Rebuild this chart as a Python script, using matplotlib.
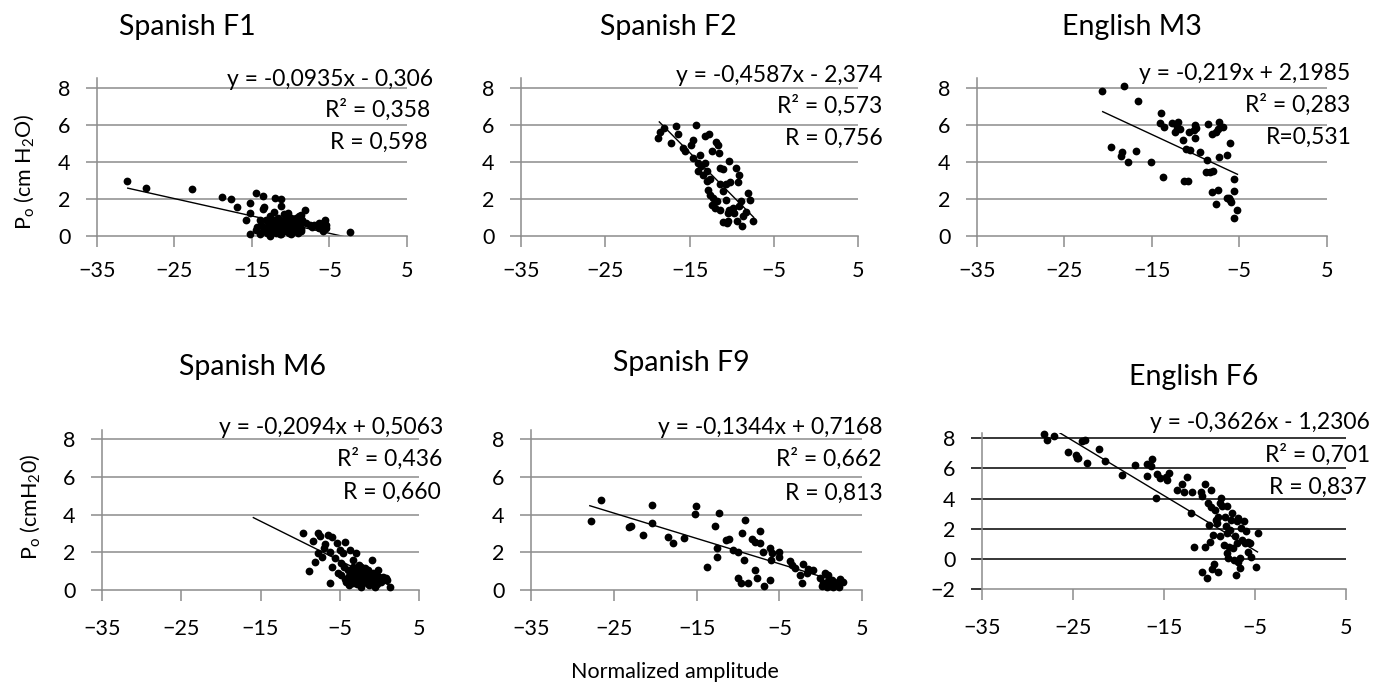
# %%
import matplotlib
matplotlib.use('Agg')
import matplotlib.pyplot as plt
import numpy as np

plt.rcParams['font.family'] = ['Lato', 'DejaVu Sans']
plt.rcParams['mathtext.fontset'] = 'custom'
plt.rcParams['mathtext.rm'] = 'Lato'
plt.rcParams['mathtext.it'] = 'Lato:italic'

# %% data

titles = ['Spanish F1', 'Spanish F2', 'English M3', 'Spanish M6', 'Spanish F9', 'English F6']

equations = ['y = -0,0935x - 0,306', 'y = -0,4587x - 2,374', 'y = -0,219x + 2,1985',
             'y = -0,2094x + 0,5063', 'y = -0,1344x + 0,7168', 'y = -0,3626x - 1,2306']
r2_labels = ['R² = 0,358', 'R² = 0,573', 'R² = 0,283', 'R² = 0,436', 'R² = 0,662', 'R² = 0,701']
r_labels = ['R = 0,598', 'R = 0,756', 'R=0,531', 'R = 0,660', 'R = 0,813', 'R = 0,837']

slopes = [-0.0935, -0.4587, -0.219, -0.2094, -0.1344, -0.3626]
intercepts = [-0.306, -2.374, 2.1985, 0.5063, 0.7168, -1.2306]
trend_x0 = [-31.0, -18.6, -20.6, -15.9, -27.9, -26.8]
trend_x1 = [-2.3, -7.4, -5.2, 1.3, 2.7, -4.7]

x_ticks = [-35, -25, -15, -5, 5]
y_ticks_top = [0, 2, 4, 6, 8]
y_ticks_f6 = [-2, 0, 2, 4, 6, 8]

ylabel_top = r'P$_{\rm o}$ (cm H$_{\rm 2}$O)'
ylabel_bottom = r'P$_{\rm o}$ (cmH$_{\rm 2}$0)'
xlabel = 'Normalized amplitude'

f1_x = [-31.05, -28.7, -22.7, -18.8, -17.7, -16.9, -15.3, -14.5, -13.5, -12.0, -11.2, -11.2, -13.4,
        -15.3, -15.8, -15.2, -14.5, -13.6, -8.1, -8.7, -8.0, -5.6, -5.5, -2.3, -6.3,
        -13.8, -13.5, -13.2, -13.0, -12.8, -12.6, -12.5, -12.3, -12.1, -12.0, -11.9, -11.8, -11.6,
        -11.5, -11.3, -11.2, -11.0, -10.9, -10.8, -10.6, -10.5, -10.4, -10.2, -10.1, -10.0, -9.8,
        -9.7, -9.5, -9.4, -9.2, -9.0, -8.9, -8.8, -8.6, -8.5, -7.5, -7.2, -6.0, -5.8, -5.7, -5.5,
        -12.7, -11.4, -13.9, -12.9, -10.3, -9.3, -7.0, -6.4, -14.3, -14.0,
        -13.3, -12.4, -11.7, -11.1, -10.7, -10.0, -9.6, -9.1, -12.2, -11.5, -10.9, -10.4, -9.9,
        -13.1, -12.6, -11.9, -11.3, -10.6, -10.2, -9.5, -8.7, -12.9, -11.6, -10.8]
f1_y = [3.0, 2.62, 2.53, 2.13, 2.0, 1.56, 1.79, 2.31, 2.19, 2.08, 1.99, 1.65, 1.6,
        1.24, 0.88, 0.1, 0.34, 1.45, 1.42, 1.15, 0.7, 0.88, 0.61, 0.25, 0.43,
        0.6, 0.3, 0.9, 0.5, 0.2, 1.1, 0.7, 0.4, 1.3, 0.9, 0.2, 0.6, 1.0,
        0.4, 0.8, 0.1, 0.5, 1.2, 0.7, 0.3, 0.9, 0.5, 0.2, 0.7, 1.0, 0.4,
        0.6, 0.3, 0.8, 0.5, 0.2, 1.1, 0.6, 0.4, 0.9, 0.6, 0.5, 0.55, 0.3, 0.75, 0.45,
        0.0, 0.15, 0.15, 0.75, 1.25, 1.0, 0.6, 0.7, 0.5, 0.9,
        0.45, 0.55, 0.35, 0.65, 0.45, 0.55, 0.7, 0.35, 0.8, 0.25, 0.35, 0.75, 0.15,
        0.2, 0.35, 0.5, 0.3, 0.55, 0.45, 0.5, 0.3, 0.45, 0.7, 0.9]

f2_x = [-18.75, -18.5, -18.0, -16.6, -14.3, -17.2, -16.4, -15.8, -14.6, -14.8, -15.6, -13.2, -12.7,
        -11.9, -11.6, -12.3, -11.5, -14.6, -13.8, -14.0, -13.6, -13.2, -14.0, -13.4, -13.0, -12.6,
        -10.3, -11.4, -11.1, -9.5, -9.1, -11.4, -10.7, -10.2, -9.3, -12.8, -12.6, -12.2, -12.4,
        -12.0, -11.8, -11.0, -10.7, -11.4, -10.3, -10.5, -9.9, -9.1, -8.9, -8.1, -7.9, -8.7,
        -10.5, -11.0, -10.6, -9.4, -8.8, -7.5, -8.3, -9.7, -13.0]
f2_y = [5.3, 5.6, 5.85, 5.94, 5.97, 5.04, 5.49, 4.77, 5.2, 4.9, 4.6, 5.4, 5.5,
        5.1, 4.9, 4.6, 4.5, 4.2, 4.4, 3.96, 3.8, 3.96, 3.5, 3.3, 3.5, 3.06,
        4.05, 3.7, 3.6, 3.7, 3.3, 2.8, 2.8, 2.9, 2.9, 2.5, 2.25, 2.07, 1.7,
        1.53, 1.89, 2.43, 1.98, 1.44, 1.44, 1.26, 1.53, 1.62, 1.89, 2.34, 1.98, 1.08,
        0.81, 0.76, 0.72, 0.81, 0.58, 0.81, 1.3, 1.26, 2.97]

m3_x = [-20.7, -18.2, -16.6, -19.6, -18.4, -18.5, -17.7, -16.8, -15.1, -13.9, -14.1, -13.6, -13.7,
        -12.7, -12.0, -12.1, -11.8, -12.3, -11.4, -11.1, -10.6, -11.3, -10.9, -10.7, -10.0, -9.9,
        -10.2, -10.1, -9.5, -8.6, -8.7, -8.8, -8.3, -8.0, -8.1, -7.6, -7.3, -6.9, -7.4, -7.3,
        -6.4, -6.0, -8.1, -7.4, -7.6, -5.6, -5.6, -6.2, -6.0, -5.9, -5.3, -5.6, -6.4]
m3_y = [7.82, 8.09, 7.3, 4.79, 4.52, 4.34, 4.01, 4.6, 4.01, 6.62, 6.11, 5.86, 3.21,
        6.11, 6.17, 5.9, 5.8, 5.63, 5.18, 4.7, 4.64, 2.97, 2.97, 5.6, 6.0, 5.85,
        5.72, 5.31, 4.52, 6.02, 4.1, 3.48, 3.44, 3.5, 5.49, 5.63, 6.17, 5.9, 5.8, 4.28,
        4.37, 5.0, 2.36, 2.48, 1.72, 3.08, 2.44, 2.04, 1.95, 1.82, 1.41, 1.0, 2.07]

m6_x = [-9.7, -8.9, -8.4, -7.8, -7.5, -8.1, -7.7, -7.3, -6.9, -6.5, -6.0, -6.3, -6.3, -6.0,
        -5.4, -5.0, -5.2, -4.9, -4.8, -4.6, -4.4, -4.4, -4.2, -4.0, -3.7, -3.3, -3.0, -3.2,
        -3.3, -2.9, -2.7, -2.5, -2.3, -2.1, -1.9, -1.6, -1.4, -1.2, -1.0, -0.9, -0.8, -0.6,
        -0.4, -0.2, 0.0, 0.4, 0.9, 0.8, 1.3, -1.6, -2.1, -2.7, -3.1, -3.5, -3.9, -2.3, -1.3,
        -2.8, -2.4, -2.0, -1.7, -1.1, -0.7, -0.3, 0.2, -2.6, -1.8, -1.5, -0.5, -3.4, -2.2,
        -1.0, -0.1, -7.0, -5.6, -4.5, -3.8]
m6_y = [3.0, 1.0, 2.6, 3.04, 2.86, 1.5, 1.94, 1.77, 2.44, 2.9, 2.8, 2.03, 0.35, 1.24,
        2.47, 2.12, 0.88, 0.8, 1.41, 1.94, 2.56, 0.57, 0.44, 1.06, 2.12, 1.59, 1.94, 0.88,
        0.35, 1.06, 0.53, 0.8, 0.18, 1.06, 0.62, 0.35, 1.06, 0.71, 1.59, 0.35, 0.88, 0.18,
        0.62, 1.06, 0.53, 0.71, 0.53, 0.62, 0.18, 0.88, 0.44, 0.97, 0.62, 0.53, 0.27, 1.24, 0.27,
        0.3, 0.65, 0.8, 0.5, 0.45, 0.75, 0.3, 0.4, 1.3, 1.15, 0.6, 0.9, 1.2, 0.9,
        0.3, 0.7, 2.2, 1.7, 1.2, 0.75]

f9_x = [-27.8, -26.5, -23.2, -22.9, -21.5, -20.4, -20.4, -18.5, -17.9, -16.5, -15.2, -15.1, -13.8,
        -12.8, -12.6, -12.6, -12.3, -11.5, -11.1, -10.6, -10.0, -10.0, -9.6, -9.5, -9.2, -9.3,
        -8.8, -8.3, -8.0, -8.0, -7.7, -7.4, -7.4, -6.9, -7.0, -6.2, -6.1, -6.0, -5.9, -5.1,
        -5.0, -3.7, -3.5, -3.1, -2.5, -2.3, -2.1, -1.7, -1.5, -0.9, -0.1, 0.1, 0.5, 0.7, 0.9,
        1.1, 1.3, 1.7, 2.1, 2.3, 2.7, 0.3, 0.7, 1.5, 2.2]
f9_y = [3.66, 4.77, 3.36, 3.41, 2.92, 4.5, 3.53, 2.79, 2.47, 2.77, 4.03, 4.45, 1.2,
        3.39, 2.21, 1.73, 4.1, 2.65, 2.7, 2.12, 2.03, 0.62, 0.35, 3.0, 3.71, 1.59,
        0.35, 2.69, 2.56, 1.06, 0.62, 3.14, 2.47, 0.21, 2.0, 0.53, 2.21, 1.59, 1.94, 1.77,
        2.0, 1.54, 1.33, 1.15, 0.8, 0.35, 1.38, 0.88, 1.1, 1.06, 0.62, 0.21, 0.88, 0.44, 0.8,
        0.21, 0.53, 0.35, 0.44, 0.57, 0.44, 0.39, 0.18, 0.18, 0.18]

f6_x = [-28.2, -27.9, -27.1, -25.5, -24.7, -24.6, -24.4, -24.0, -23.7, -23.5, -22.1, -21.5, -19.6,
        -18.2, -16.9, -16.8, -16.3, -16.4, -15.9, -15.8, -15.4, -14.8, -14.7, -14.4, -13.6, -13.0,
        -12.8, -12.5, -12.0, -11.9, -11.7, -10.9, -10.8, -10.8, -10.5, -10.5, -10.2, -10.1, -10.0,
        -9.9, -9.8, -9.8, -9.7, -9.6, -9.5, -9.4, -9.3, -9.1, -9.0, -8.8, -8.8, -8.7, -8.6, -8.4,
        -8.3, -8.2, -8.1, -8.1, -8.0, -7.9, -7.8, -7.7, -7.6, -7.5, -7.4, -7.3, -7.2, -7.1, -7.0,
        -7.0, -6.8, -6.8, -6.6, -6.6, -6.5, -6.4, -6.2, -6.1, -6.0, -5.8, -5.7, -5.5, -5.4, -4.9,
        -4.7, -9.0]
f6_y = [8.29, 7.87, 8.13, 7.07, 6.92, 6.69, 6.69, 7.8, 7.87, 6.36, 7.31, 6.52, 5.59,
        6.25, 6.32, 5.48, 6.65, 6.19, 4.04, 5.65, 5.37, 5.43, 5.26, 5.7, 4.55, 4.99,
        4.42, 5.43, 3.04, 4.42, 0.79, 4.42, 4.19, -0.87, 4.99, 0.83, -1.27, 3.71, 2.25,
        1.1, 4.59, 3.44, -0.67, 1.61, -0.32, 3.27, 2.6, 2.38, -0.83, 1.5, 3.71, 4.04, 3.49, 0.94,
        2.82, 2.16, 1.72, 0.39, 3.49, 0.06, 0.83, 1.94, 2.6, 3.04, 0.72, -0.05, 1.5, -1.05, 2.49,
        1.06, 2.71, -0.16, -0.6, 0.06, 2.05, 1.27, 2.49, 1.06, 1.83, 0.5, 1.16, 1.05, 0.12, -0.5,
        1.76, 2.82]

series_x = [f1_x, f2_x, m3_x, m6_x, f9_x, f6_x]
series_y = [f1_y, f2_y, m3_y, m6_y, f9_y, f6_y]

# %% layout (pixels of the 1389x689 canvas)

W, H = 1389, 689
fig = plt.figure(figsize=(W / 100, H / 100), dpi=100)

# left, right, top, bottom of each plot area
boxes = [(96.7, 407.0, 78.4, 236.3), (521.0, 858.3, 78.4, 236.3), (976.7, 1326.7, 78.4, 236.3),
         (101.7, 419.3, 429.6, 590.0), (531.0, 862.3, 429.6, 590.0), (982.0, 1345.7, 433.0, 589.3)]
ylims = [(0, 8.5)] * 5 + [(-2, 8.35)]
title_pos = [(187, 27), (668, 27), (1132, 27), (252, 367), (681, 363), (1194, 377)]
text_pos = [[(433, 79), (430, 110), (428, 142)],
            [(882, 75), (882, 106), (883, 138)],
            [(1350, 73), (1350, 105), (1352, 137)],
            [(443, 427), (442, 459), (441, 492)],
            [(883, 427), (882, 459), (883, 493)],
            [(1370, 423), (1370, 455), (1367, 487)]]

GRAY = '#8c8c8c'

def fig_xy(x, y):
    return x / W, 1 - y / H

for i in range(6):
    l, r, t, b = boxes[i]
    ax = fig.add_axes([l / W, 1 - b / H, (r - l) / W, (b - t) / H])
    ax.set_xlim(-35, 5)
    ax.set_ylim(*ylims[i])
    yt = y_ticks_f6 if i == 5 else y_ticks_top
    grid_col = 'black' if i == 5 else GRAY
    for v in yt:
        if v == yt[0]:
            continue
        ax.axhline(v, color=grid_col, lw=1.1, zorder=1)
    for s in ['top', 'right']:
        ax.spines[s].set_visible(False)
    for s in ['left', 'bottom']:
        ax.spines[s].set_color(GRAY)
        ax.spines[s].set_linewidth(1.1)
    ax.set_xticks(x_ticks)
    ax.set_yticks(yt)
    ax.tick_params(axis='x', length=8, width=1.1, color=GRAY, labelsize=15.5,
                   pad=10 if i < 3 else 13)
    ax.tick_params(axis='y', length=8, width=1.1, color=grid_col if i == 5 else GRAY,
                   labelsize=15.5, pad=11)
    ax.patch.set_alpha(0)

    ax.plot(series_x[i], series_y[i], 'o', color='black', ms=5.6, mew=0, zorder=3, clip_on=False)
    tx = np.array([trend_x0[i], trend_x1[i]])
    ax.plot(tx, slopes[i] * tx + intercepts[i], color='black', lw=1.0, zorder=2)

    fig.text(*fig_xy(*title_pos[i]), titles[i], fontsize=20.5, ha='center', va='center')
    for lab, (px, py) in zip([equations[i], r2_labels[i], r_labels[i]], text_pos[i]):
        fig.text(*fig_xy(px, py), lab, fontsize=16.5, ha='right', va='center')

fig.text(*fig_xy(24, 172), ylabel_top, fontsize=15.5, rotation=90, ha='center', va='center')
fig.text(*fig_xy(30, 507), ylabel_bottom, fontsize=15.5, rotation=90, ha='center', va='center')
fig.text(*fig_xy(675, 672), xlabel, fontsize=15.5, ha='center', va='center')

fig.savefig('out.png', dpi=100)
